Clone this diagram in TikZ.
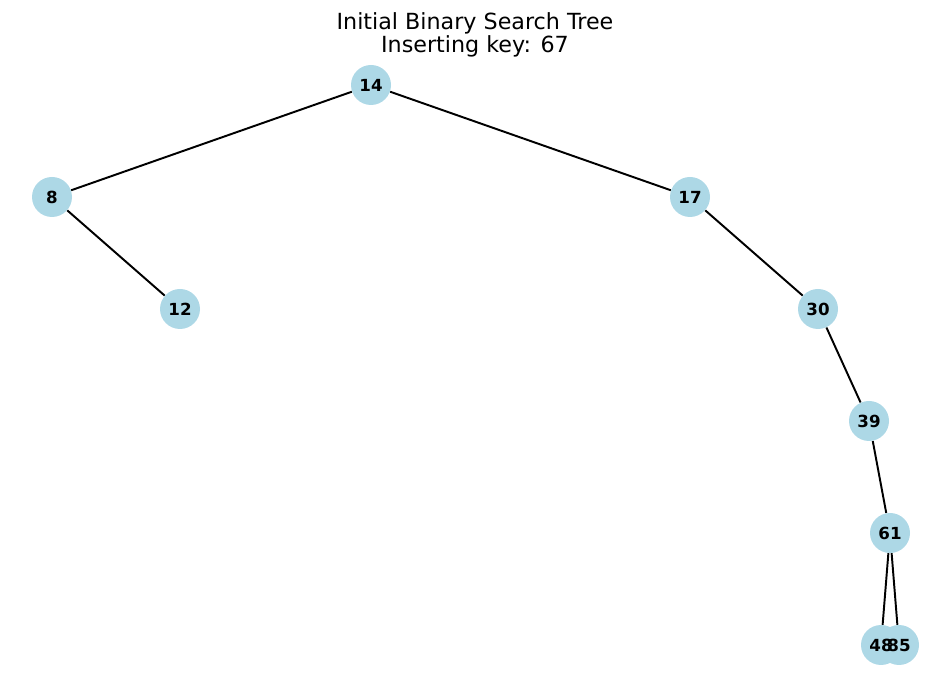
\documentclass[tikz,border=0pt]{standalone}
\usepackage{fontspec}
\setmainfont{DejaVu Sans}
\usetikzlibrary{backgrounds}

\definecolor{lightblue}{HTML}{ADD8E6}

\begin{document}
\begin{tikzpicture}[
    x=0.72pt, y=-0.72pt,
    vertex/.style={circle, fill=lightblue, minimum size=28.8pt, inner sep=0pt},
    keytext/.style={font=\fontsize{12}{14}\selectfont\bfseries},
    edge/.style={line width=1.4pt, black},
    title/.style={font=\fontsize{16}{16.6}\selectfont, align=center}
]
\useasboundingbox (0,0) rectangle (950,683);

% Title
\node (Title) [title, anchor=north] at (475,8) {Initial Binary Search Tree\\Inserting key: 67};

% Nodes
\node (n14) [vertex] at (371,85) {};
\node (n8)  [vertex] at (52,197) {};
\node (n17) [vertex] at (690,197) {};
\node (n12) [vertex] at (180,309) {};
\node (n30) [vertex] at (818,309) {};
\node (n39) [vertex] at (869,421) {};
\node (n61) [vertex] at (890,533) {};
\node (n48) [vertex] at (881,645) {};
\node (n85) [vertex] at (899,645) {};

% Keys
\foreach \k in {14,8,17,12,30,39,61,48,85}
    \node (k\k) [keytext] at (n\k) {\k};

% Edges
\begin{pgfonlayer}{background}
\draw [edge] (n14) -- (n8);
\draw [edge] (n14) -- (n17);
\draw [edge] (n8) -- (n12);
\draw [edge] (n17) -- (n30);
\draw [edge] (n30) -- (n39);
\draw [edge] (n39) -- (n61);
\draw [edge] (n61) -- (n48);
\draw [edge] (n61) -- (n85);
\end{pgfonlayer}

\end{tikzpicture}
\end{document}
